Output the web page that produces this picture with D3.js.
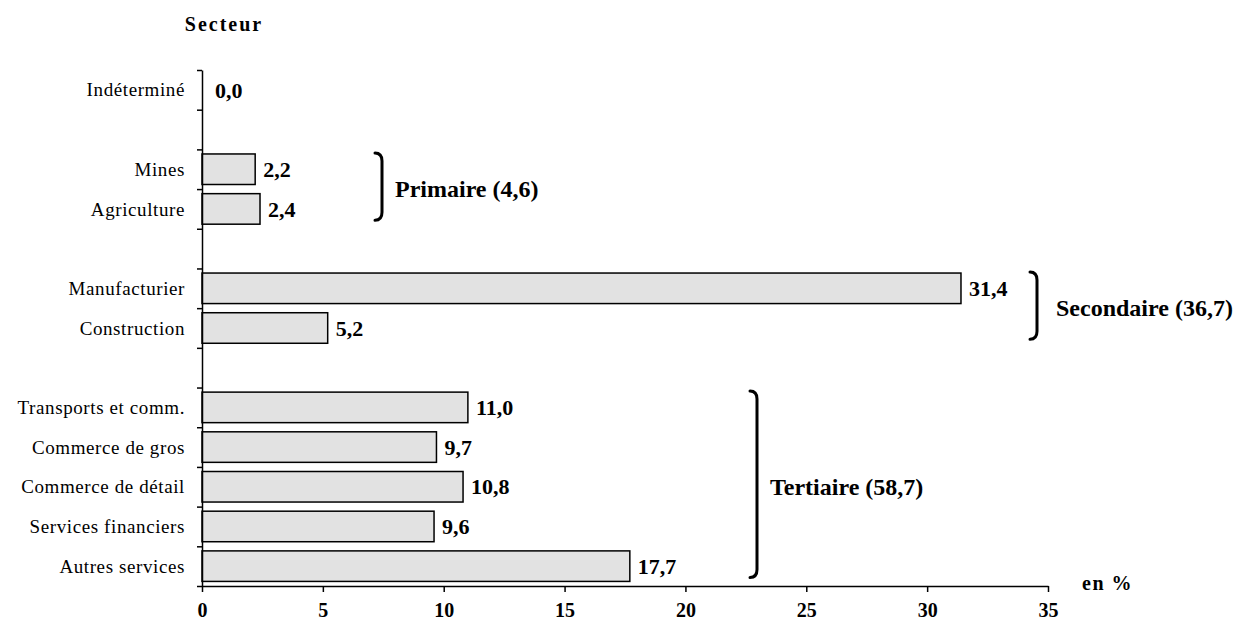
<!DOCTYPE html>
<html>
<head>
<meta charset="utf-8">
<script src="https://cdn.jsdelivr.net/npm/d3@7"></script>
<style>
  html, body { margin: 0; padding: 0; background: #fff; }
  svg { display: block; }
  text { font-family: "Liberation Serif", "Times New Roman", serif; fill: #000; }
</style>
</head>
<body>
<svg id="chart" width="1240" height="622"></svg>
<script>
// Répartition par secteur (en %)
const categories = [
  "Indéterminé", "", "Mines", "Agriculture", "",
  "Manufacturier", "Construction", "",
  "Transports et comm.", "Commerce de gros", "Commerce de détail",
  "Services financiers", "Autres services"
];
const values = [0.0, null, 2.2, 2.4, null, 31.4, 5.2, null, 11.0, 9.7, 10.8, 9.6, 17.7];
const valueLabels = ["0,0", "", "2,2", "2,4", "", "31,4", "5,2", "", "11,0", "9,7", "10,8", "9,6", "17,7"];

// Regroupements sectoriels
const groupNames = ["Primaire (4,6)", "Secondaire (36,7)", "Tertiaire (58,7)"];
const groupFirst = ["Mines", "Manufacturier", "Transports et comm."];
const groupLast = ["Agriculture", "Construction", "Autres services"];

const xTicks = [0, 5, 10, 15, 20, 25, 30, 35];

const svg = d3.select("#chart");
const plotLeft = 202, plotRight = 1048, plotTop = 70, plotBottom = 586;

const x = d3.scaleLinear().domain([0, 35]).range([plotLeft, plotRight]);
const idx = d3.range(categories.length);
const y = d3.scaleBand().domain(idx).range([plotTop, plotBottom]).padding(0);
const yEdges = d3.scaleLinear().domain([0, categories.length]).range([plotTop, plotBottom]);
const barH = y.bandwidth() / 1.3;
const barTop = i => y(i) + (y.bandwidth() - barH) / 2;

// Barres
svg.append("g").selectAll("rect")
  .data(idx.filter(i => values[i] !== null))
  .join("rect")
  .attr("x", x(0))
  .attr("y", i => barTop(i))
  .attr("width", i => x(values[i]) - x(0))
  .attr("height", barH)
  .attr("fill", "#e2e2e2")
  .attr("stroke", "#000")
  .attr("stroke-width", 1.5);

// Étiquettes de valeur
svg.append("g").selectAll("text")
  .data(idx.filter(i => values[i] !== null))
  .join("text")
  .attr("x", i => x(values[i]) + (values[i] === 0 ? 13 : 8))
  .attr("y", i => y(i) + y.bandwidth() / 2)
  .attr("dy", "0.35em")
  .attr("font-size", 22)
  .attr("font-weight", "bold")
  .text(i => valueLabels[i]);

// Axe vertical (graduations entre les catégories)
const yAxis = svg.append("g")
  .attr("transform", `translate(${plotLeft},0)`)
  .call(d3.axisLeft(yEdges).tickValues(d3.range(categories.length + 1)).tickFormat("").tickSize(5).tickSizeOuter(0));
yAxis.selectAll("path, line").attr("stroke", "#000").attr("stroke-width", 1.5);

// Libellés des catégories
svg.append("g").selectAll("text")
  .data(idx.filter(i => categories[i] !== ""))
  .join("text")
  .attr("x", plotLeft - 17)
  .attr("y", i => y(i) + y.bandwidth() / 2)
  .attr("dy", "0.35em")
  .attr("text-anchor", "end")
  .attr("font-size", 19)
  .attr("letter-spacing", 0.6)
  .text(i => categories[i]);

// Axe horizontal
const xAxis = svg.append("g")
  .attr("transform", `translate(0,${plotBottom})`)
  .call(d3.axisBottom(x).tickValues(xTicks).tickSize(6).tickSizeOuter(0).tickPadding(11));
xAxis.selectAll("path, line").attr("stroke", "#000").attr("stroke-width", 1.5);
xAxis.selectAll("text")
  .attr("font-family", "'Liberation Serif', 'Times New Roman', serif")
  .attr("font-size", 20)
  .attr("font-weight", "bold")
  .attr("fill", "#000");

// Titres des axes
svg.append("text")
  .attr("x", 224).attr("y", 24).attr("dy", "0.35em")
  .attr("text-anchor", "middle")
  .attr("font-size", 20).attr("font-weight", "bold")
  .attr("letter-spacing", 2)
  .text("Secteur");
svg.append("text")
  .attr("x", 1082).attr("y", 583).attr("dy", "0.35em")
  .attr("font-size", 20).attr("font-weight", "bold")
  .attr("letter-spacing", 1.5)
  .text("en %");

// Accolades de regroupement et leurs libellés
const bracketX = [382, 1037, 757];
const labelGap = [13, 19, 13];
groupNames.forEach((name, g) => {
  const i0 = categories.indexOf(groupFirst[g]);
  const i1 = categories.indexOf(groupLast[g]);
  const y0 = barTop(i0) - 1;
  const y1 = barTop(i1) + barH - 4;
  const bx = bracketX[g];
  const hook = 7, curl = 8;
  svg.append("path")
    .attr("d", `M${bx - hook},${y0} Q${bx},${y0} ${bx},${y0 + curl} L${bx},${y1 - curl} Q${bx},${y1} ${bx - hook},${y1}`)
    .attr("fill", "none")
    .attr("stroke", "#000")
    .attr("stroke-width", 3)
    .attr("stroke-linecap", "round");
  svg.append("text")
    .attr("x", bx + labelGap[g])
    .attr("y", (y0 + y1) / 2 + 2)
    .attr("dy", "0.35em")
    .attr("font-size", 24)
    .attr("font-weight", "bold")
    .text(name);
});
</script>
</body>
</html>
